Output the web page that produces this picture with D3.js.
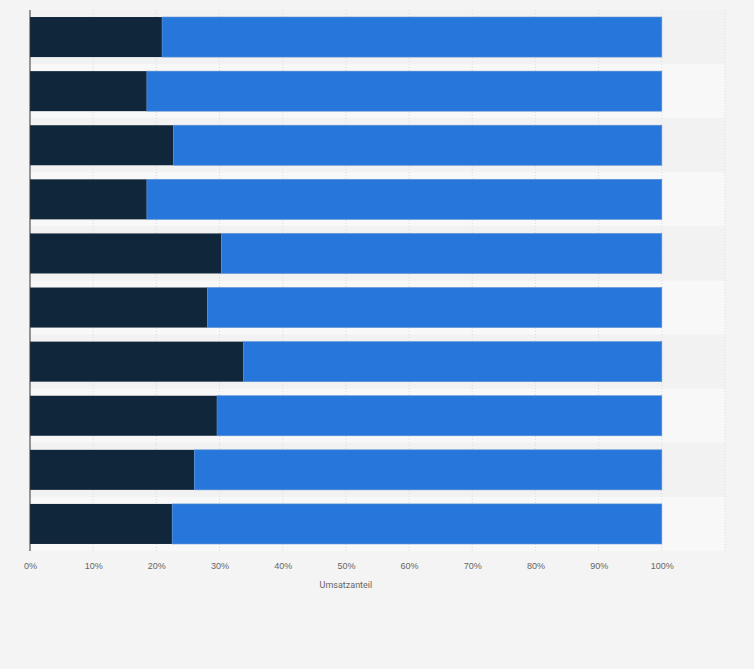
<!DOCTYPE html>
<html><head><meta charset="utf-8">
<script src="https://cdn.jsdelivr.net/npm/d3@7"></script>
<style>body{margin:0;background:#f4f4f4;font-family:Roboto,"Noto Sans",sans-serif}</style>
</head><body>
<svg id="chart" width="754" height="669"></svg>
<script>
// rows top to bottom, share of the dark segment in percent
var rows = ["1","2","3","4","5","6","7","8","9","10"],
	darkShare = [20.9, 18.5, 22.7, 18.5, 30.3, 28.1, 33.8, 29.6, 26.0, 22.5],
	tickValues = [0,10,20,30,40,50,60,70,80,90,100,110],
	tickLabels = ["0%","10%","20%","30%","40%","50%","60%","70%","80%","90%","100%",""];

var svg = d3.select("#chart"),
	plotLeft = 30, plotRight = 725, plotTop = 10, plotBottom = 551;

var x = d3.scaleLinear().domain([0, 110]).range([plotLeft, plotRight]);
var y = d3.scaleBand().domain(rows).range([plotTop, plotBottom]).paddingInner(0.26).paddingOuter(0.13);
var band = d3.scaleBand().domain(rows).range([plotTop, plotBottom]);

// alternating row bands
svg.selectAll("rect.band").data(rows).enter().append("rect")
	.attr("class", "band")
	.attr("x", plotLeft).attr("width", plotRight - plotLeft)
	.attr("y", function(d) { return band(d); })
	.attr("height", band.bandwidth())
	.attr("fill", function(d, i) { return i % 2 ? "#f8f8f8" : "#f2f2f2"; });

// gridlines
svg.selectAll("line.grid").data(tickValues.slice(1)).enter().append("line")
	.attr("class", "grid")
	.attr("x1", function(d) { return x(d); }).attr("x2", function(d) { return x(d); })
	.attr("y1", plotTop).attr("y2", plotBottom)
	.attr("stroke", "#dcdcdc").attr("stroke-dasharray", "1,2");

var data = rows.map(function(r, i) { return {row: r, v: darkShare[i]}; });

svg.selectAll("rect.dark").data(data).enter().append("rect")
	.attr("class", "dark")
	.attr("x", x(0)).attr("y", function(d) { return y(d.row); })
	.attr("width", function(d) { return x(d.v) - x(0); })
	.attr("height", y.bandwidth())
	.attr("fill", "#10263b");

svg.selectAll("rect.blue").data(data).enter().append("rect")
	.attr("class", "blue")
	.attr("x", function(d) { return x(d.v); }).attr("y", function(d) { return y(d.row); })
	.attr("width", function(d) { return x(100) - x(d.v); })
	.attr("height", y.bandwidth())
	.attr("fill", "#2676dc").attr("stroke", "#5b8fd0").attr("stroke-width", 0.6);

// y axis line
svg.append("line").attr("x1", plotLeft).attr("x2", plotLeft).attr("y1", plotTop).attr("y2", plotBottom)
	.attr("stroke", "#333").attr("stroke-width", 1);

var axis = d3.axisBottom(x).tickValues(tickValues)
	.tickFormat(function(d, i) { return tickLabels[i]; }).tickSize(0).tickPadding(12);
var g = svg.append("g").attr("transform", "translate(0," + plotBottom + ")").call(axis);
g.select(".domain").remove();
g.selectAll("text").attr("fill", "#666").style("font-size", "9px");

svg.append("text").attr("x", (x(0) + x(100)) / 2).attr("y", 588)
	.attr("text-anchor", "middle").attr("fill", "#666").style("font-size", "9px")
	.text("Umsatzanteil");
</script>
</body></html>
